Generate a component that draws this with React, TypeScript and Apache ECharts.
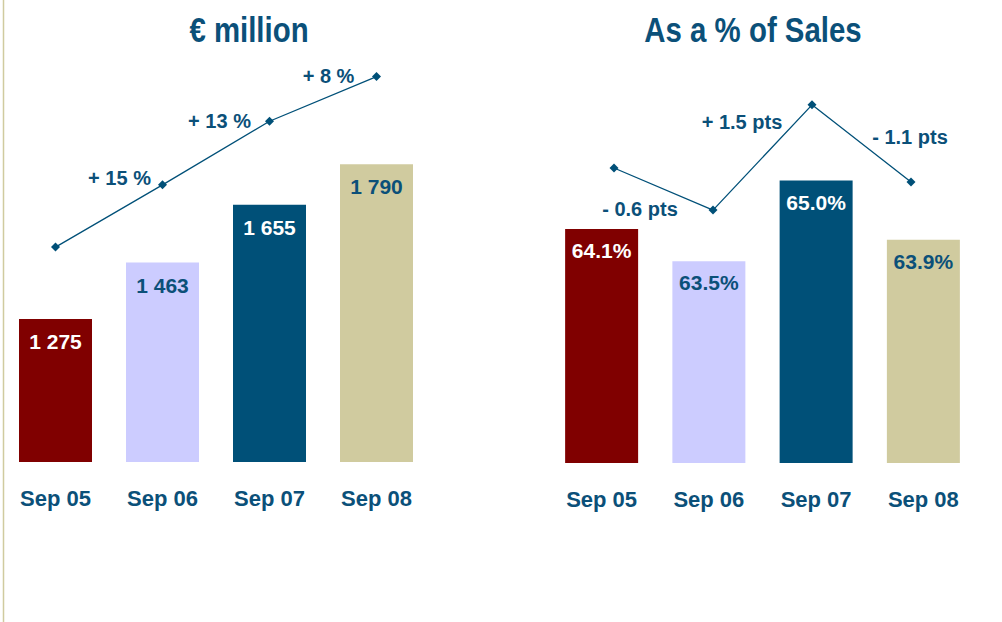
import React, { useEffect, useRef } from "react";
import * as echarts from "echarts";

const categories = ["Sep 05", "Sep 06", "Sep 07", "Sep 08"];
const salesValues = [1275, 1463, 1655, 1790];
const salesLabels = ["1 275", "1 463", "1 655", "1 790"];
const growthLabels = ["", "+ 15 %", "+ 13 %", "+ 8 %"];
const pctValues = [64.1, 63.5, 65.0, 63.9];
const pctLabels = ["64.1%", "63.5%", "65.0%", "63.9%"];
const ptsLabels = ["", "- 0.6 pts", "+ 1.5 pts", "- 1.1 pts"];
const titles = ["€ million", "As a % of Sales"];

const barColors = ["#800000", "#CCCCFF", "#005078", "#D0CB9F"];
const labelColors = ["#FFFFFF", "#0B5079", "#FFFFFF", "#0B5079"];
const TEXT = "#0B5079";
const FONT = "'Liberation Sans Narrow', 'Arial Narrow', 'Liberation Sans', Arial, sans-serif";

const growthOffsets = [[0, 0], [-43, -7], [-50, 0], [-48, -1]];
const ptsOffsets = [[0, 0], [-73, -1], [-70, 17], [-1, -45]];

export default function App() {
  const ref = useRef<HTMLDivElement>(null);
  useEffect(() => {
    if (!ref.current) return;
    const chart = echarts.init(ref.current, null, { renderer: "svg" });
    const hiddenCat = (gridIndex: number) => ({
      type: "category",
      data: categories,
      gridIndex,
      axisLine: { show: false },
      axisTick: { show: false },
      axisLabel: {
        show: gridIndex < 2,
        color: TEXT,
        fontFamily: FONT,
        fontWeight: "bold",
        fontSize: 22,
        margin: 25,
      },
    });
    const hiddenVal = (gridIndex: number, min: number, max: number) => ({
      type: "value",
      gridIndex,
      min,
      max,
      show: false,
      splitLine: { show: false },
    });
    const barData = (vals: number[], labels: string[]) =>
      vals.map((v, i) => ({
        value: v,
        itemStyle: { color: barColors[i] },
        label: { formatter: labels[i], color: labelColors[i] },
      }));
    const lineData = (vals: number[], labels: string[], offsets: number[][]) =>
      vals.map((v, i) => ({
        value: v,
        label: {
          show: labels[i] !== "",
          formatter: labels[i],
          position: "inside",
          offset: offsets[i],
          color: TEXT,
          fontFamily: FONT,
          fontWeight: "bold",
          fontSize: 20,
        },
      }));
    const titleText = (x: number, text: string) => ({
      type: "text",
      x,
      y: 30,
      scaleX: 0.84,
      style: {
        text,
        fill: TEXT,
        font: `bold 35px ${FONT}`,
        textAlign: "center",
        textVerticalAlign: "middle",
      },
    });
    chart.setOption({
      animation: false,
      backgroundColor: "#FFFFFF",
      grid: [
        { left: 2, width: 428, top: 101, height: 361 },
        { left: 548, width: 429, top: 101, height: 362 },
        { left: 2, width: 428, top: 60, height: 402 },
        { left: 564.5, width: 396, top: 60, height: 403 },
      ],
      xAxis: [hiddenCat(0), hiddenCat(1), hiddenCat(2), hiddenCat(3)],
      yAxis: [
        hiddenVal(0, 800, 2000),
        hiddenVal(1, 59.75, 66.48),
        hiddenVal(2, 626, 1840),
        hiddenVal(3, 59.895, 65.639),
      ],
      graphic: [
        {
          type: "line",
          shape: { x1: 3.5, y1: 0, x2: 3.5, y2: 622 },
          style: { stroke: "#D0CB9F", lineWidth: 1.5 },
        },
        titleText(249, titles[0]),
        titleText(753, titles[1]),
      ],
      series: [
        {
          type: "bar",
          xAxisIndex: 0,
          yAxisIndex: 0,
          barWidth: 73,
          data: barData(salesValues, salesLabels),
          label: {
            show: true,
            position: "insideTop",
            distance: 12,
            fontFamily: FONT,
            fontWeight: "bold",
            fontSize: 21,
          },
        },
        {
          type: "bar",
          xAxisIndex: 1,
          yAxisIndex: 1,
          barWidth: 73,
          data: barData(pctValues, pctLabels),
          label: {
            show: true,
            position: "insideTop",
            distance: 11,
            fontFamily: FONT,
            fontWeight: "bold",
            fontSize: 21,
          },
        },
        {
          type: "line",
          xAxisIndex: 2,
          yAxisIndex: 2,
          clip: false,
          symbol: "diamond",
          symbolSize: 9,
          lineStyle: { color: "#005078", width: 1.3 },
          itemStyle: { color: "#005078" },
          data: lineData(salesValues, growthLabels, growthOffsets),
        },
        {
          type: "line",
          xAxisIndex: 3,
          yAxisIndex: 3,
          clip: false,
          symbol: "diamond",
          symbolSize: 9,
          lineStyle: { color: "#005078", width: 1.3 },
          itemStyle: { color: "#005078" },
          data: lineData(pctValues, ptsLabels, ptsOffsets),
        },
      ],
    });
    return () => chart.dispose();
  }, []);
  return (
    <div
      ref={ref}
      style={{ position: "fixed", left: 0, top: 0, width: 1002, height: 622 }}
    />
  );
}
